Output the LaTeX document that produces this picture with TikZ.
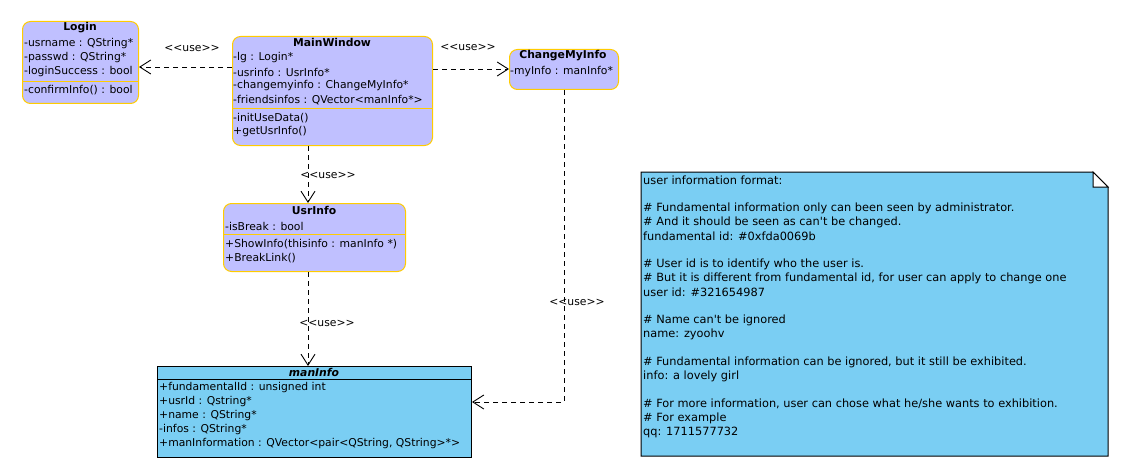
\documentclass[tikz,border=0pt]{standalone}
\usepackage{fontspec}
\setmainfont{DejaVu Sans}[Ligatures=TeXOff]
\usetikzlibrary{arrows.meta,calc}
\definecolor{lav}{RGB}{192,192,255}
\definecolor{gold}{RGB}{255,204,0}
\definecolor{sky}{RGB}{122,206,243}
\tikzset{
  lavbox/.style={draw=gold, fill=lav, rounded corners=8pt, line width=1pt, inner sep=0pt, anchor=north west},
  skybox/.style={draw=black, fill=sky, line width=1pt, inner sep=0pt, anchor=north west},
  txt/.style={anchor=west, inner sep=0pt},
  ttl/.style={inner sep=0pt, font=\fontsize{10.8}{13}\selectfont\bfseries},
  lavsep/.style={draw=gold, line width=1pt},
  usearrow/.style={draw, line width=0.9pt, dash pattern=on 5pt off 4pt, -{Straight Barb[length=11pt,width=14pt,line width=0.9pt]}},
  lbl/.style={inner sep=0pt},
  notetxt/.style={anchor=west, inner sep=0pt, font=\fontsize{11.35}{13}\selectfont},
}
\begin{document}
\begin{tikzpicture}[x=1pt,y=-1pt,font=\fontsize{10.8}{13}\selectfont]
\path[use as bounding box, fill=white] (0,0) rectangle (1137,476);

% helper coordinates
\coordinate (xa) at (308,0);
\coordinate (ya) at (0,67);
\coordinate (yb) at (0,69);
\coordinate (yc) at (0,402);

% Login
\node[lavbox, minimum width=116pt, minimum height=82pt] (login) at (22,21) {};
\node[ttl] (loginT) at (80,28) {Login};
\node[txt] (login1) at (24,44) {-usrname : QString*};
\node[txt] (login2) at (24,58) {-passwd : QString*};
\node[txt] (login3) at (24,72) {-loginSuccess : bool};
\draw[lavsep] (login.west |- 0,82) -- (login.east |- 0,82);
\node[txt] (login4) at (24,90) {-confirmInfo() : bool};

% MainWindow
\node[lavbox, minimum width=200pt, minimum height=109pt] (mw) at (232,36) {};
\node[ttl] (mwT) at (332,42) {MainWindow};
\node[txt] (mw1) at (233,58) {-lg : Login*};
\node[txt] (mw2) at (233,72) {-usrinfo : UsrInfo*};
\node[txt] (mw3) at (233,86) {-changemyinfo : ChangeMyInfo*};
\node[txt] (mw4) at (233,100) {-friendsinfos : QVector<manInfo*>};
\draw[lavsep] (mw.west |- 0,109) -- (mw.east |- 0,109);
\node[txt] (mw5) at (233,118) {-initUseData()};
\node[txt] (mw6) at (233,132) {+getUsrInfo()};

% ChangeMyInfo
\node[lavbox, minimum width=109pt, minimum height=40pt] (cmi) at (509,49) {};
\node[ttl] (cmiT) at (563,56) {ChangeMyInfo};
\node[txt] (cmi1) at (510,72) {-myInfo : manInfo*};

% UsrInfo
\node[lavbox, minimum width=182pt, minimum height=68pt] (ui) at (223,203) {};
\node[ttl] (uiT) at (314,210) {UsrInfo};
\node[txt] (ui1) at (225,226) {-isBreak : bool};
\draw[lavsep] (ui.west |- 0,234) -- (ui.east |- 0,234);
\node[txt] (ui2) at (225,244) {+ShowInfo(thisinfo : manInfo *)};
\node[txt] (ui3) at (225,258) {+BreakLink()};

% manInfo
\node[skybox, minimum width=314pt, minimum height=91pt] (mi) at (157,366) {};
\node[ttl, font=\fontsize{10.8}{13}\selectfont\bfseries\itshape] (miT) at (314,372) {manInfo};
\draw[line width=1pt] (mi.west |- 0,379) -- (mi.east |- 0,379);
\node[txt] (mi1) at (159,388) {+fundamentalId : unsigned int};
\node[txt] (mi2) at (159,402) {+usrId : Qstring*};
\node[txt] (mi3) at (159,416) {+name : QString*};
\node[txt] (mi4) at (159,430) {-infos : QString*};
\node[txt] (mi5) at (159,444) {+manInformation : QVector<pair<QString, QString>*>};

% connectors
\draw[usearrow] (mw.west |- ya) -- (login.east |- ya);
\node[lbl] (u1) at (192,48) {<<use>>};
\draw[usearrow] (mw.east |- yb) -- (cmi.west |- yb);
\node[lbl] (u2) at (468,47) {<<use>>};
\draw[usearrow] (mw.south -| xa) -- (ui.north -| xa);
\node[lbl] (u3) at (328,175) {<<use>>};
\draw[usearrow] (ui.south -| xa) -- (mi.north -| xa);
\node[lbl] (u4) at (327,323) {<<use>>};
\draw[usearrow] (cmi.south) |- (mi.east |- yc);
\node[lbl] (u5) at (577,302) {<<use>>};

% Note
\draw[fill=sky, line width=1pt] (641,172) -- (1093,172) -- (1108,187) -- (1108,456) -- (641,456) -- cycle;
\draw[fill=white, line width=1pt] (1093,172) -- (1093,187) -- (1108,187) -- cycle;
\node[notetxt] (n1) at (643,180) {user information format:};
\node[notetxt] (n3) at (643,208) {\# Fundamental information only can been seen by administrator.};
\node[notetxt] (n4) at (643,222) {\# And it should be seen as can't be changed.};
\node[notetxt] (n5) at (643,236) {fundamental id: \#0xfda0069b};
\node[notetxt] (n7) at (643,264) {\# User id is to identify who the user is.};
\node[notetxt] (n8) at (643,278) {\# But it is different from fundamental id, for user can apply to change one};
\node[notetxt] (n9) at (643,292) {user id: \#321654987};
\node[notetxt] (n11) at (643,320) {\# Name can't be ignored};
\node[notetxt] (n12) at (643,334) {name: zyoohv};
\node[notetxt] (n14) at (643,362) {\# Fundamental information can be ignored, but it still be exhibited.};
\node[notetxt] (n15) at (643,376) {info: a lovely girl};
\node[notetxt] (n17) at (643,404) {\# For more information, user can chose what he/she wants to exhibition.};
\node[notetxt] (n18) at (643,418) {\# For example};
\node[notetxt] (n19) at (643,432) {qq: 1711577732};
\end{tikzpicture}
\end{document}
